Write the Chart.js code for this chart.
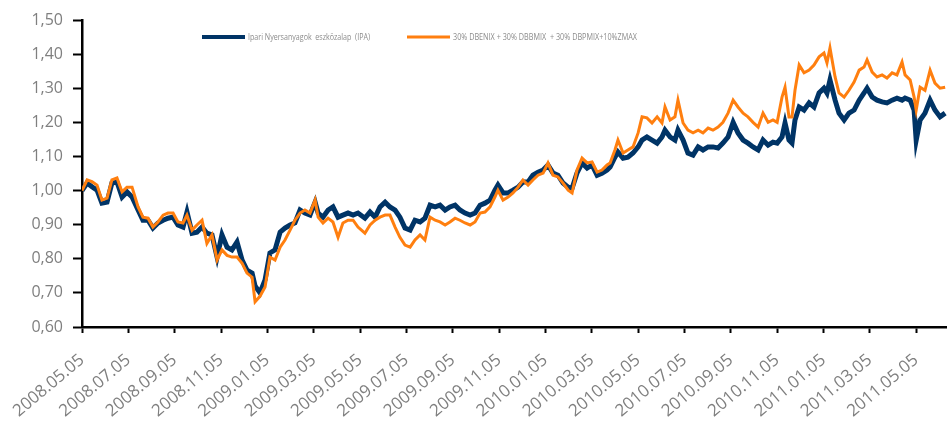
<!DOCTYPE html>
<html>
<head>
<meta charset="utf-8">
<script src="https://cdn.jsdelivr.net/npm/chart.js@4.4.1/dist/chart.umd.min.js"></script>
<style>
  html, body { margin: 0; padding: 0; background: #ffffff; }
  #wrap { width: 947px; height: 429px; position: relative; }
</style>
</head>
<body>
<div id="wrap"><canvas id="c" width="947" height="429"></canvas></div>
<script>
// ---- Data ----
const seriesNames = ['Ipari Nyersanyagok  eszközalap  (IPA)', '30% DBENIX + 30% DBBMIX  + 30% DBPMIX+10%ZMAX'];
const tickLabels = ['2008.05.05','2008.07.05','2008.09.05','2008.11.05','2009.01.05','2009.03.05','2009.05.05','2009.07.05','2009.09.05','2009.11.05','2010.01.05','2010.03.05','2010.05.05','2010.07.05','2010.09.05','2010.11.05','2011.01.05','2011.03.05','2011.05.05'];
// time of each sample, in months since 2008.05.05
const monthOffset = [
  0,0.22,0.43,0.65,0.86,1.08,1.29,1.51,1.73,1.94,
  2.16,2.42,2.63,2.85,3.06,3.28,3.50,3.71,3.93,4.14,
  4.36,4.53,4.75,4.96,5.18,5.39,5.61,5.83,6.04,6.26,
  6.47,6.69,6.91,7.12,7.34,7.47,7.68,7.90,8.11,8.33,
  8.55,8.76,8.98,9.19,9.41,9.62,9.84,10.06,10.19,10.40,
  10.62,10.83,11.05,11.26,11.48,11.70,11.91,12.21,12.43,12.65,
  12.86,13.08,13.29,13.51,13.72,13.94,14.16,14.37,14.59,14.80,
  15.02,15.24,15.45,15.67,15.88,16.10,16.31,16.53,16.75,16.96,
  17.18,17.39,17.61,17.82,17.95,18.17,18.39,18.60,18.82,19.03,
  19.25,19.46,19.68,19.90,20.11,20.33,20.54,20.76,20.98,21.15,
  21.36,21.58,21.80,22.01,22.23,22.44,22.66,22.79,23.00,23.13,
  23.35,23.56,23.78,24.00,24.17,24.38,24.60,24.82,25.03,25.16,
  25.38,25.59,25.72,25.94,26.15,26.37,26.59,26.80,27.02,27.23,
  27.45,27.66,27.88,28.10,28.31,28.53,28.74,28.96,29.18,29.39,
  29.61,29.82,30.00,30.21,30.34,30.51,30.64,30.77,30.95,31.16,
  31.38,31.59,31.81,32.02,32.15,32.28,32.50,32.67,32.89,33.10,
  33.32,33.54,33.75,33.88,34.10,34.31,34.53,34.74,34.96,35.17,
  35.39,35.52,35.74,35.91,36.00,36.17,36.38,36.60,36.81,37.03,
  37.25
];
const ipaValues = [
  1.000,1.022,1.011,1.001,0.963,0.966,1.022,1.025,0.981,0.996,
  0.981,0.943,0.913,0.913,0.890,0.905,0.913,0.919,0.922,0.899,
  0.893,0.937,0.875,0.878,0.893,0.875,0.870,0.805,0.870,0.834,
  0.826,0.849,0.796,0.767,0.758,0.720,0.700,0.738,0.817,0.826,
  0.878,0.890,0.899,0.905,0.943,0.934,0.928,0.966,0.934,0.922,
  0.943,0.952,0.922,0.928,0.934,0.928,0.934,0.919,0.937,0.922,
  0.952,0.966,0.952,0.943,0.922,0.890,0.884,0.913,0.908,0.919,
  0.957,0.952,0.957,0.943,0.952,0.957,0.943,0.934,0.928,0.934,
  0.957,0.963,0.972,1.001,1.016,0.993,0.993,1.001,1.010,1.025,
  1.025,1.045,1.054,1.060,1.075,1.051,1.045,1.022,1.010,1.007,
  1.051,1.081,1.066,1.075,1.045,1.051,1.060,1.069,1.098,1.113,
  1.095,1.098,1.110,1.128,1.148,1.157,1.148,1.139,1.157,1.177,
  1.157,1.148,1.177,1.148,1.110,1.104,1.128,1.119,1.128,1.128,
  1.125,1.139,1.157,1.200,1.169,1.148,1.139,1.128,1.119,1.148,
  1.133,1.142,1.139,1.157,1.198,1.148,1.139,1.207,1.245,1.236,
  1.257,1.245,1.286,1.300,1.286,1.324,1.265,1.227,1.207,1.227,
  1.236,1.265,1.286,1.300,1.274,1.265,1.260,1.257,1.265,1.271,
  1.265,1.271,1.265,1.236,1.148,1.207,1.227,1.265,1.236,1.216,
  1.227
];
const benchValues = [
  1.000,1.031,1.026,1.016,0.972,0.978,1.031,1.037,0.996,1.010,
  1.010,0.952,0.922,0.919,0.893,0.908,0.928,0.934,0.934,0.908,
  0.905,0.928,0.884,0.899,0.913,0.845,0.870,0.796,0.826,0.810,
  0.805,0.805,0.787,0.758,0.746,0.674,0.690,0.717,0.805,0.796,
  0.834,0.855,0.884,0.913,0.934,0.943,0.934,0.972,0.922,0.905,
  0.919,0.908,0.863,0.905,0.913,0.913,0.893,0.875,0.899,0.913,
  0.922,0.928,0.928,0.893,0.863,0.840,0.834,0.855,0.870,0.855,
  0.922,0.913,0.908,0.899,0.908,0.919,0.913,0.905,0.899,0.908,
  0.934,0.937,0.952,0.981,1.001,0.972,0.981,0.993,1.010,1.031,
  1.016,1.031,1.045,1.051,1.081,1.045,1.040,1.022,1.001,0.993,
  1.060,1.095,1.081,1.084,1.054,1.060,1.075,1.081,1.119,1.148,
  1.110,1.119,1.128,1.169,1.216,1.213,1.198,1.216,1.198,1.245,
  1.207,1.216,1.265,1.198,1.177,1.169,1.177,1.169,1.183,1.177,
  1.186,1.200,1.227,1.265,1.245,1.227,1.216,1.200,1.186,1.227,
  1.200,1.207,1.200,1.274,1.303,1.216,1.216,1.294,1.368,1.345,
  1.353,1.368,1.392,1.403,1.374,1.418,1.333,1.286,1.274,1.294,
  1.318,1.353,1.362,1.383,1.347,1.333,1.339,1.330,1.345,1.339,
  1.377,1.339,1.324,1.274,1.236,1.303,1.294,1.353,1.315,1.300,
  1.303
];
const yMin = 0.60, yMax = 1.50, yStep = 0.10;
const xMaxMonths = 37.33;

// ---- Build chart ----
const toPoints = vals => vals.map((v, i) => ({ x: monthOffset[i], y: v }));
const BLUE = '#003466';
const ORANGE = '#FF7F0F';
const FONT = "'Open Sans', 'Noto Sans', sans-serif";

const legendPlugin = {
  id: 'manualLegend',
  afterDraw(chart) {
    const ctx = chart.ctx;
    const ds = chart.data.datasets;
    const items = [
      { ds: ds[1], lx: 202, lw: 43, tx: 248, tw: 122, th: 4 },
      { ds: ds[0], lx: 407, lw: 43, tx: 453, tw: 184, th: 3 }
    ];
    ctx.save();
    const y = 37;
    items.forEach(it => {
      ctx.fillStyle = it.ds.borderColor;
      ctx.fillRect(it.lx, y - it.th / 2, it.lw, it.th);
      ctx.fillStyle = '#8c8c8c';
      ctx.font = '9px ' + FONT;
      ctx.textBaseline = 'middle';
      ctx.textAlign = 'left';
      ctx.fillText(it.ds.label, it.tx, y, it.tw);
    });
    ctx.restore();
  }
};

new Chart(document.getElementById('c'), {
  type: 'line',
  data: {
    datasets: [
      { label: seriesNames[1], data: toPoints(benchValues), borderColor: ORANGE, borderWidth: 3, pointRadius: 0, tension: 0, order: 0 },
      { label: seriesNames[0], data: toPoints(ipaValues), borderColor: BLUE, borderWidth: 5, pointRadius: 0, tension: 0, order: 1 }
    ]
  },
  options: {
    responsive: false,
    animation: false,
    devicePixelRatio: 1,
    layout: { padding: { top: 20, right: 0, bottom: 0, left: 0 } },
    plugins: { legend: { display: false }, tooltip: { enabled: false } },
    scales: {
      x: {
        type: 'linear',
        min: 0,
        max: xMaxMonths,
        grid: { display: true, drawOnChartArea: false, drawTicks: true, tickLength: 6, tickColor: '#000', tickWidth: 2 },
        border: { display: true, color: '#000', width: 2.5 },
        ticks: {
          stepSize: 2,
          includeBounds: false,
          autoSkip: false,
          minRotation: 40,
          maxRotation: 40,
          padding: 17,
          color: '#7f7f7f',
          font: { family: FONT, size: 17 },
          callback: v => tickLabels[Math.round(v / 2)] || ''
        },
        afterFit: s => { s.height = 102; s.paddingLeft = 0; s.paddingRight = 0; }
      },
      y: {
        min: yMin,
        max: yMax,
        grid: { display: true, drawOnChartArea: false, drawTicks: true, tickLength: 9, tickColor: '#000', tickWidth: 2 },
        border: { display: true, color: '#000', width: 2.5 },
        ticks: {
          stepSize: yStep,
          padding: 10,
          color: '#7f7f7f',
          font: { family: FONT, size: 16 },
          callback: v => (Math.round(v * 100) / 100).toFixed(2).replace('.', ',')
        },
        afterFit: s => { s.width = 82; s.paddingTop = 0; s.paddingBottom = 0; }
      }
    }
  },
  plugins: [legendPlugin]
});
</script>
</body>
</html>
